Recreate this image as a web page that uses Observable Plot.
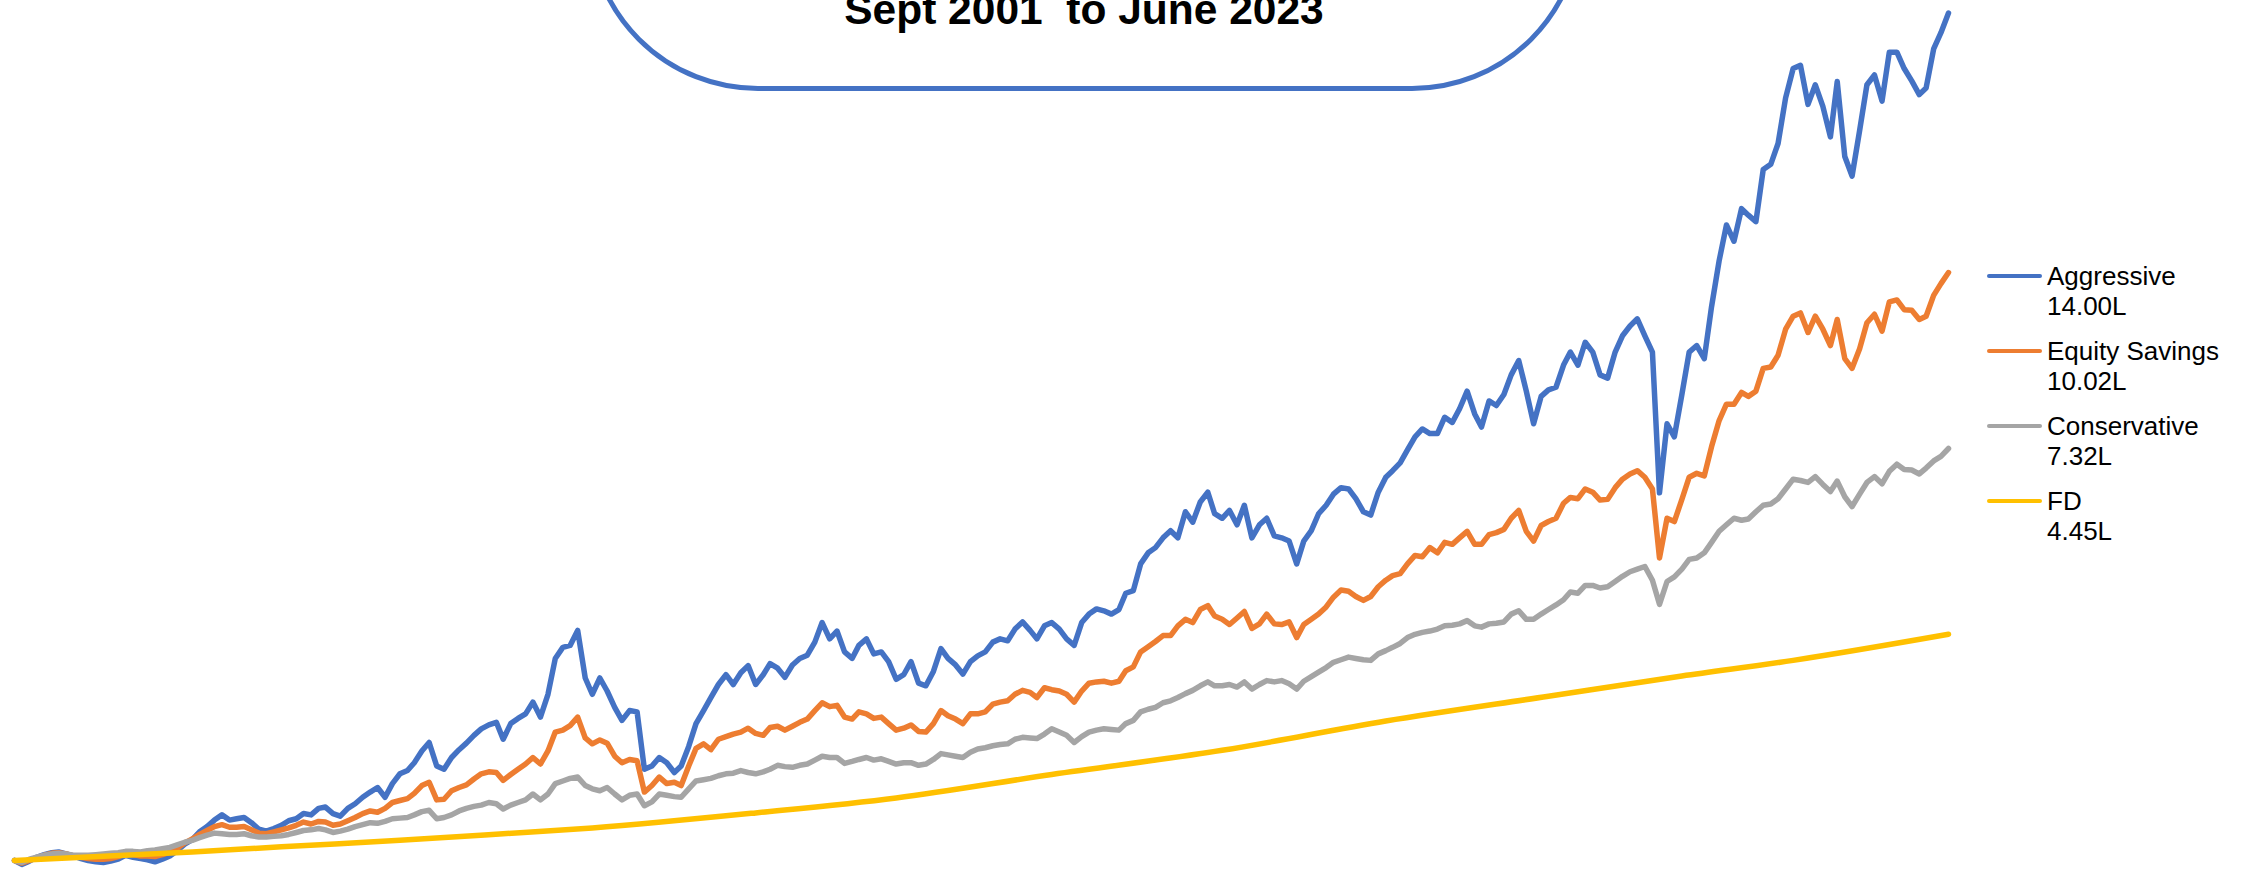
<!DOCTYPE html>
<html>
<head>
<meta charset="utf-8">
<script src="https://cdn.jsdelivr.net/npm/d3@7"></script>
<script src="https://cdn.jsdelivr.net/npm/@observablehq/plot@0.6"></script>
<style>
  html, body { margin: 0; padding: 0; background: #ffffff; }
  #wrap { position: relative; width: 2251px; height: 869px; overflow: hidden; background: #ffffff; }
  #wrap svg { position: absolute; left: 0; top: 0; }
  #titleBox { position: absolute; left: 587px; top: -260px; width: 996px; height: 351px; box-sizing: border-box;
              border: 5px solid #4472C4; border-radius: 171px; background: transparent; }
  #titleText { position: absolute; left: 584px; width: 1000px; top: -11px; text-align: center; white-space: pre;
               font-family: "Liberation Sans", Arial, sans-serif; font-weight: bold; font-size: 42.5px; line-height: 1; color: #000; }
  .lg { position: absolute; left: 1984px; width: 267px; height: 60px; }
  .lg .sw { position: absolute; left: 3px; width: 55px; height: 4px; border-radius: 2px; }
  .lg .tx { position: absolute; left: 63px; top: 0; font-family: "Liberation Sans", Arial, sans-serif; font-size: 26px;
            line-height: 30px; color: #000; white-space: nowrap; }
</style>
</head>
<body>
<div id="wrap"></div>
<script>
// ---- Data (values in lakhs, monthly from Sept 2001 to June 2023) ----
const seriesNames = ["Aggressive", "Equity Savings", "Conservative", "FD"];
const finalLabels = ["14.00L", "10.02L", "7.32L", "4.45L"];
const seriesColors = ["#4472C4", "#ED7D31", "#A5A5A5", "#FFC000"];
const titleLabel = "Sept 2001  to June 2023";

const aggressive = [
  1.00, 0.94, 0.99, 1.05, 1.09, 1.12, 1.13, 1.10, 1.07, 1.03,
  1.00, 0.98, 0.97, 0.99, 1.02, 1.08, 1.05, 1.03, 1.01, 0.98,
  1.02, 1.07, 1.15, 1.25, 1.32, 1.44, 1.52, 1.62, 1.70, 1.62,
  1.64, 1.66, 1.58, 1.48, 1.45, 1.49, 1.54, 1.61, 1.64, 1.72,
  1.70, 1.80, 1.82, 1.72, 1.68, 1.80, 1.87, 1.97, 2.05, 2.12,
  1.97, 2.18, 2.33, 2.38, 2.50, 2.68, 2.81, 2.45, 2.40, 2.58,
  2.70, 2.80, 2.92, 3.02, 3.08, 3.12, 2.86, 3.10, 3.18, 3.25,
  3.43, 3.20, 3.55, 4.10, 4.27, 4.30, 4.53, 3.80, 3.55, 3.80,
  3.60, 3.35, 3.15, 3.30, 3.28, 2.40, 2.45, 2.58, 2.50, 2.35,
  2.45, 2.75, 3.10, 3.30, 3.50, 3.70, 3.85, 3.70, 3.88, 3.99,
  3.70, 3.85, 4.02, 3.95, 3.81, 4.00, 4.10, 4.15, 4.35, 4.65,
  4.40, 4.52, 4.20, 4.10, 4.30, 4.40, 4.17, 4.20, 4.05, 3.78,
  3.85, 4.05, 3.72, 3.68, 3.90, 4.25, 4.10, 4.00, 3.86, 4.05,
  4.14, 4.20, 4.35, 4.40, 4.37, 4.55, 4.66, 4.53, 4.40, 4.60,
  4.65, 4.55, 4.40, 4.30, 4.65, 4.78, 4.86, 4.83, 4.78, 4.85,
  5.10, 5.14, 5.55, 5.72, 5.80, 5.95, 6.06, 5.95, 6.35, 6.19,
  6.50, 6.65, 6.32, 6.25, 6.37, 6.15, 6.45, 5.95, 6.15, 6.25,
  5.98, 5.95, 5.90, 5.55, 5.90, 6.06, 6.32, 6.45, 6.62, 6.72,
  6.70, 6.55, 6.35, 6.30, 6.65, 6.88, 6.98, 7.10, 7.30, 7.50,
  7.62, 7.55, 7.55, 7.80, 7.72, 7.93, 8.20, 7.85, 7.65, 8.05,
  7.98, 8.15, 8.45, 8.67, 8.20, 7.70, 8.12, 8.22, 8.26, 8.60,
  8.80, 8.60, 8.95, 8.80, 8.45, 8.40, 8.80, 9.05, 9.20, 9.31,
  9.05, 8.80, 6.64, 7.70, 7.50, 8.15, 8.80, 8.90, 8.70, 9.50,
  10.20, 10.75, 10.50, 11.00, 10.90, 10.80, 11.60, 11.68, 12.00, 12.70,
  13.15, 13.20, 12.60, 12.90, 12.57, 12.10, 12.95, 11.80, 11.50, 12.20,
  12.90, 13.05, 12.65, 13.40, 13.40, 13.15, 12.96, 12.75, 12.85, 13.45,
  13.70, 14.00
];

const equitySavings = [
  1.00, 0.96, 1.00, 1.04, 1.08, 1.11, 1.12, 1.10, 1.07, 1.05,
  1.03, 1.02, 1.02, 1.03, 1.06, 1.10, 1.09, 1.07, 1.07, 1.06,
  1.09, 1.13, 1.19, 1.27, 1.33, 1.40, 1.46, 1.52, 1.55, 1.51,
  1.51, 1.52, 1.47, 1.42, 1.41, 1.44, 1.47, 1.50, 1.54, 1.59,
  1.56, 1.60, 1.59, 1.54, 1.56, 1.61, 1.66, 1.72, 1.76, 1.74,
  1.80, 1.89, 1.92, 1.95, 2.03, 2.15, 2.20, 1.93, 1.94, 2.07,
  2.12, 2.16, 2.25, 2.33, 2.36, 2.35, 2.23, 2.32, 2.40, 2.48,
  2.58, 2.48, 2.68, 2.97, 3.00, 3.07, 3.20, 2.88, 2.79, 2.85,
  2.80, 2.60, 2.50, 2.55, 2.53, 2.05, 2.15, 2.28, 2.18, 2.20,
  2.15, 2.45, 2.72, 2.79, 2.70, 2.86, 2.90, 2.94, 2.97, 3.03,
  2.95, 2.92, 3.04, 3.06, 3.00, 3.06, 3.12, 3.17, 3.30, 3.42,
  3.36, 3.38, 3.20, 3.17, 3.28, 3.25, 3.18, 3.20, 3.10, 3.00,
  3.03, 3.08, 2.98, 2.97, 3.10, 3.30, 3.22, 3.17, 3.10, 3.25,
  3.25, 3.28, 3.40, 3.43, 3.45, 3.55, 3.61, 3.58, 3.50, 3.65,
  3.62, 3.60, 3.55, 3.43, 3.60, 3.72, 3.74, 3.75, 3.72, 3.75,
  3.91, 3.97, 4.20, 4.28, 4.36, 4.45, 4.45, 4.60, 4.70, 4.65,
  4.85, 4.91, 4.75, 4.70, 4.62, 4.72, 4.82, 4.56, 4.63, 4.78,
  4.63, 4.62, 4.66, 4.42, 4.62, 4.70, 4.78, 4.89, 5.04, 5.15,
  5.13, 5.05, 4.99, 5.05, 5.20, 5.30, 5.37, 5.40, 5.55, 5.68,
  5.66, 5.80, 5.72, 5.88, 5.85, 5.95, 6.05, 5.85, 5.85, 6.00,
  6.03, 6.08, 6.25, 6.37, 6.05, 5.90, 6.14, 6.20, 6.25, 6.48,
  6.57, 6.55, 6.70, 6.65, 6.53, 6.54, 6.72, 6.85, 6.93, 6.98,
  6.88, 6.70, 5.64, 6.25, 6.20, 6.54, 6.88, 6.94, 6.90, 7.35,
  7.75, 8.00, 8.00, 8.18, 8.12, 8.20, 8.55, 8.57, 8.75, 9.15,
  9.35, 9.40, 9.10, 9.35, 9.15, 8.90, 9.30, 8.70, 8.55, 8.85,
  9.25, 9.38, 9.12, 9.57, 9.60, 9.45, 9.44, 9.30, 9.35, 9.67,
  9.85, 10.02
];

const conservative = [
  1.00, 0.97, 1.02, 1.05, 1.08, 1.10, 1.11, 1.10, 1.08, 1.08,
  1.08, 1.09, 1.10, 1.11, 1.12, 1.14, 1.14, 1.13, 1.15, 1.16,
  1.18, 1.20, 1.24, 1.28, 1.31, 1.35, 1.39, 1.42, 1.41, 1.40,
  1.40, 1.41, 1.38, 1.36, 1.36, 1.37, 1.38, 1.40, 1.43, 1.46,
  1.47, 1.49, 1.47, 1.43, 1.45, 1.48, 1.52, 1.55, 1.58, 1.57,
  1.60, 1.64, 1.65, 1.66, 1.70, 1.75, 1.77, 1.64, 1.66, 1.70,
  1.76, 1.80, 1.83, 1.85, 1.89, 1.87, 1.79, 1.85, 1.89, 1.93,
  2.02, 1.93, 2.02, 2.18, 2.22, 2.26, 2.28, 2.15, 2.10, 2.07,
  2.12, 2.02, 1.93, 2.00, 2.02, 1.84, 1.90, 2.02, 2.00, 1.98,
  1.97, 2.10, 2.22, 2.24, 2.26, 2.30, 2.33, 2.34, 2.38, 2.35,
  2.33, 2.36, 2.40, 2.46, 2.44, 2.43, 2.46, 2.48, 2.54, 2.60,
  2.58, 2.58, 2.49, 2.52, 2.55, 2.58, 2.54, 2.56, 2.52, 2.48,
  2.50, 2.50, 2.46, 2.48, 2.55, 2.64, 2.62, 2.60, 2.58, 2.66,
  2.71, 2.73, 2.76, 2.78, 2.79, 2.86, 2.89, 2.88, 2.87, 2.94,
  3.02, 2.97, 2.92, 2.81, 2.90, 2.97, 3.00, 3.02, 3.01, 3.00,
  3.10, 3.15, 3.28, 3.32, 3.35, 3.42, 3.45, 3.50, 3.56, 3.61,
  3.68, 3.74, 3.68, 3.68, 3.70, 3.66, 3.74, 3.63, 3.70, 3.76,
  3.74, 3.76, 3.71, 3.63, 3.75, 3.82, 3.89, 3.96, 4.04, 4.08,
  4.12, 4.10, 4.08, 4.07, 4.17, 4.22, 4.27, 4.33, 4.42, 4.47,
  4.50, 4.52, 4.55, 4.60, 4.61, 4.63, 4.68, 4.60, 4.58, 4.63,
  4.64, 4.66, 4.78, 4.83, 4.70, 4.70, 4.78, 4.85, 4.92, 5.00,
  5.12, 5.10, 5.22, 5.22, 5.18, 5.20, 5.28, 5.36, 5.43, 5.47,
  5.51, 5.30, 4.93, 5.28, 5.35, 5.47, 5.62, 5.64, 5.72, 5.88,
  6.05, 6.15, 6.25, 6.22, 6.24, 6.35, 6.45, 6.47, 6.55, 6.70,
  6.85, 6.83, 6.80, 6.89, 6.77, 6.66, 6.82, 6.58, 6.43, 6.62,
  6.80, 6.89, 6.78, 6.97, 7.08, 7.00, 6.99, 6.93, 7.02, 7.13,
  7.20, 7.32
];

// FD is a smooth curve: read at a handful of months (index from Sept 2001)
const fdMonthIndex = [0, 24, 36, 52, 66, 78, 100, 119, 140, 163, 185, 207, 225, 240, 261];
const fdValues     = [1.00, 1.13, 1.21, 1.31, 1.41, 1.50, 1.73, 1.96, 2.32, 2.69, 3.14, 3.52, 3.83, 4.07, 4.47];

// ---- Build tables ----
const months = d3.utcMonth.range(new Date(Date.UTC(2001, 8, 1)), new Date(Date.UTC(2023, 6, 1)));
const toRows = (vals) => vals.map((v, i) => ({date: months[i], value: v}));
const aggRows = toRows(aggressive);
const esRows = toRows(equitySavings);
const consRows = toRows(conservative);
const fdRows = fdMonthIndex.map((m, i) => ({date: months[m], value: fdValues[i]}));

const lineOpts = (color, w) => ({x: "date", y: "value", stroke: color, strokeWidth: w,
  strokeLinejoin: "round", strokeLinecap: "round"});

const chart = Plot.plot({
  width: 2251,
  height: 869,
  marginTop: 0, marginRight: 0, marginBottom: 0, marginLeft: 0,
  style: {background: "transparent", overflow: "visible"},
  x: {type: "utc", domain: [months[0], months[months.length - 1]], range: [14, 1948], axis: null},
  y: {type: "linear", domain: [1, 14], range: [860, 12.6], axis: null},
  marks: [
    Plot.line(aggRows, lineOpts(seriesColors[0], 5.5)),
    Plot.line(esRows, lineOpts(seriesColors[1], 5.5)),
    Plot.line(consRows, lineOpts(seriesColors[2], 5.5)),
    Plot.line(fdRows, {...lineOpts(seriesColors[3], 5.5), curve: "monotone-x"})
  ]
});

const wrap = document.getElementById("wrap");
wrap.appendChild(chart);

// Title box (cut off at the top edge, as in the reference)
const box = document.createElement("div");
box.id = "titleBox";
wrap.appendChild(box);
const title = document.createElement("div");
title.id = "titleText";
title.textContent = titleLabel;
wrap.appendChild(title);

// Legend
seriesNames.forEach((name, i) => {
  const item = document.createElement("div");
  item.className = "lg";
  item.style.top = (261 + i * 75) + "px";
  const sw = document.createElement("div");
  sw.className = "sw";
  sw.style.top = (14.7 - 2) + "px";
  sw.style.background = seriesColors[i];
  const tx = document.createElement("div");
  tx.className = "tx";
  const l1 = document.createElement("div"); l1.textContent = name;
  const l2 = document.createElement("div"); l2.textContent = finalLabels[i];
  tx.appendChild(l1); tx.appendChild(l2);
  item.appendChild(sw); item.appendChild(tx);
  wrap.appendChild(item);
});
</script>
</body>
</html>
